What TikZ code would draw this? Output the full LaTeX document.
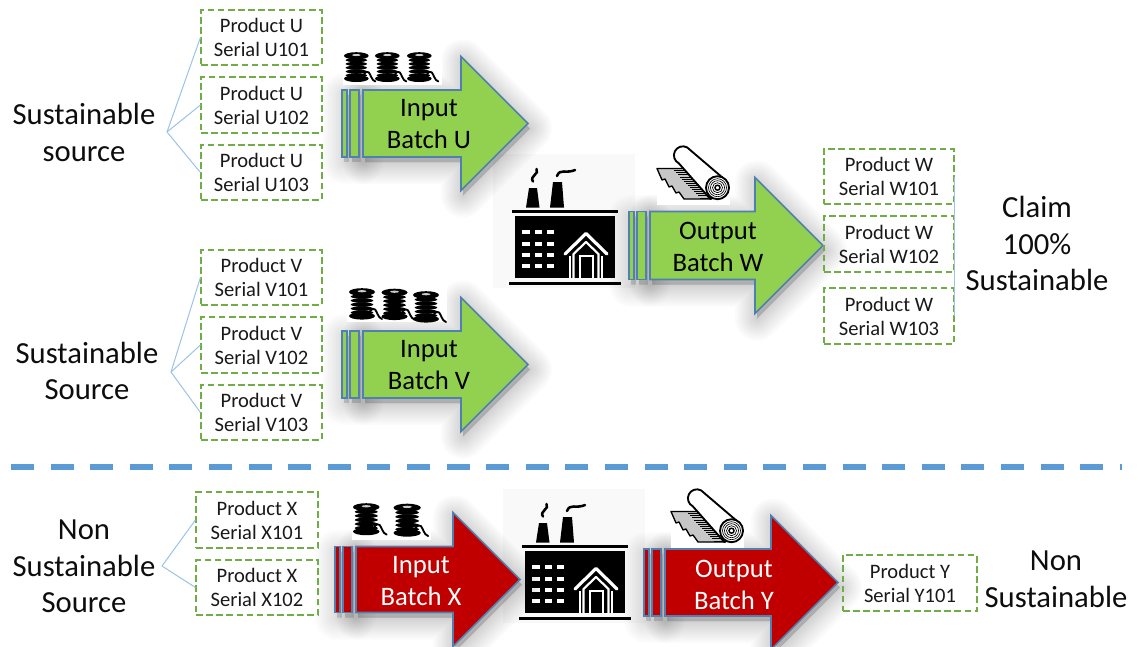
\documentclass[tikz,border=0pt]{standalone}
\usepackage{fontspec}
\setmainfont{Carlito}
\definecolor{fanblue}{HTML}{9DC3E6}
\definecolor{edgeblue}{HTML}{5080B0}
\definecolor{dashblue}{HTML}{5B9BD5}
\definecolor{boxgreen}{HTML}{70AD47}
\definecolor{lime}{HTML}{92D050}
\definecolor{deepred}{HTML}{C00000}
\tikzset{
  pbox/.style={draw=boxgreen,dashed,dash pattern=on 5pt off 2.6pt,line width=0.9pt,inner sep=0pt,align=center,
    font=\fontsize{15.4}{18}\selectfont,text=black!90},
  bigtext/.style={inner sep=0pt,align=center,font=\fontsize{23}{27.4}\selectfont,text=black!95},
  arrowtext/.style={inner sep=0pt,align=center,font=\fontsize{20}{24}\selectfont},
  fan/.style={draw=fanblue,line width=0.75pt},
  edge/.style={draw=edgeblue,line width=1.2pt,line join=miter},
}
\newcommand{\pb}[6]{\node[pbox,minimum width=#4*0.75pt,minimum height=#5*0.75pt] (#1) at (#2,#3) {#6};}
% fill, x0, xh, xt, ym, half body, half head
\newcommand{\batcharrow}[7]{%
  \def\arrowpath{(#2,#5-#6) -- (#3,#5-#6) -- (#3,#5-#7) -- (#4,#5) -- (#3,#5+#7) -- (#3,#5+#6) -- (#2,#5+#6) -- cycle}%
  \def\stripesa{(#2-21,#5-#6) rectangle (#2-16,#5+#6)}%
  \def\stripesb{(#2-13,#5-#6) rectangle (#2-4,#5+#6)}%
  \foreach \w in {44,40,36,32,28,24,20,16,12,8,4}{
    \fill[black,opacity=.017,shift={(2,5)},draw=black,line width=\w*0.75pt,line join=round] \arrowpath;
    \fill[black,opacity=.012,shift={(2,5)},draw=black,line width=\w*0.75pt,line join=round] \stripesa \stripesb;
  }
  \draw[edge,fill=#1] \stripesa;
  \draw[edge,fill=#1] \stripesb;
  \draw[edge,fill=#1] \arrowpath;
}
\newcommand{\factory}[2]{%
  \begin{scope}[shift={(#1,#2)}]
    \fill[black!2.5] (493,154) rectangle (635,288);
    \fill[black] (512,210) rectangle (618,212.5);
    \fill[black] (509,281.5) rectangle (621,284.5);
    \fill[black] (515,215.5) rectangle (614.5,278);
    \fill[black] (526,207.5) -- (529,188) -- (537,188) -- (539.5,207.5) -- cycle;
    \fill[black] (550,207.5) -- (553,182) -- (562,182) -- (564,207.5) -- cycle;
    \draw[black,line width=1.9pt,line cap=round] (533,181.5) .. controls (529,176) and (540,174) .. (536.5,169);
    \draw[black,line width=1.9pt,line cap=round] (557,176) .. controls (560,168) and (566,174) .. (575,170);
    \foreach \yy in {230.3,241.7,253,264.3}{
      \foreach \xx in {522,534.5,546.5}{
        \fill[white] (\xx,\yy) rectangle ++(7.7,3.8);
      }
    }
    \draw[white,line width=2.4pt,line join=round,line cap=round] (565,254) -- (586,233.5) -- (607,254);
    \draw[white,line width=1.6pt,line join=round] (573.5,278) -- (573.5,254) -- (586,242) -- (598.5,254) -- (598.5,278);
    \draw[white,line width=1.5pt] (580,278) -- (580,256) -- (593,256) -- (593,278);
    \draw[white,line width=1.5pt] (570,256) -- (570,278);
    \draw[white,line width=1.5pt] (601.5,256) -- (601.5,278);
  \end{scope}}
\newcommand{\spool}[3]{% x y scale
  \begin{scope}[shift={(#1,#2)},scale=#3]
    \foreach \yy in {8.7,12.7,16.7,20.7,24.7}{
      \fill[black] (13,\yy) ellipse (11.3 and 2.4);
      \draw[white,line width=.8pt] (1.8,\yy+1.1) .. controls (6,\yy+3.3) and (20,\yy+3.3) .. (24.2,\yy+1.1);
    }
    \fill[black] (13,4) ellipse (13 and 3.8);
    \fill[white!80!black] (13,3.2) ellipse (4.5 and 1.1);
    \fill[black] (13,28) ellipse (13 and 3.6);
    \draw[black,line width=1.4pt,line cap=round] (21,23) .. controls (26,18) and (27,23) .. (28.5,26) .. controls (29.5,29) and (31,30) .. (33,31);
  \end{scope}}
\newcommand{\roll}[2]{%
  \begin{scope}[shift={(#1,#2)}]
    \fill[white] (657,144) rectangle (730,205);
    \fill[black!22] (657,169) -- (684,169) -- (712,199) -- (684,199) -- (679,192) -- (676,193) -- (672,186) -- (669,187) -- (665,179) -- (662,180) -- cycle;
    \foreach \t in {0,2,...,26}{
      \draw[black,line width=.4pt] (674+\t,170.5+\t*1.05) -- (686+\t,170.5+\t*1.05);
    }
    \draw[black,line width=1pt,line join=round] (684,168.5) -- (657,168.5) -- (662,180) -- (665,179) -- (669,187) -- (672,186) -- (676,193) -- (679,192) -- (684,199) -- (712,199);
    \draw[black,line width=1.4pt,fill=white,line join=round] (687,147.3) arc[start angle=-63,end angle=-243,radius=9] -- (710.3,199) -- (725.3,180) -- cycle;
    \draw[black,line width=1.4pt,fill=white] (717.5,187.7) circle (11.5);
    \draw[black,line width=.5pt] (717.5,187.7) circle (9) (717.5,187.7) circle (7) (717.5,187.7) circle (5);
    \draw[black,line width=1.1pt] (717.5,187.7) circle (2.5);
  \end{scope}}
\begin{document}
\begin{tikzpicture}[x=0.75pt,y=-0.75pt]
\useasboundingbox (0,0) rectangle (1138,646);
\clip (0,0) rectangle (1138,646);
\fill[white] (0,0) rectangle (1138,646);

% factories first so that arrow shadows sit over their backgrounds
\factory{0}{0}
\factory{10}{335}

% batch arrows
\batcharrow{lime}{363}{461}{528}{123.5}{33.5}{67}
\batcharrow{lime}{363}{461}{528}{364.5}{33.5}{67}
\batcharrow{lime}{650}{755}{823}{245.5}{34}{68}
\batcharrow{deepred}{356}{453}{520}{579.5}{33}{67}
\batcharrow{deepred}{665}{771}{838}{582.5}{33.5}{67}

% white icon backdrops and icons
\fill[white] (343,52) rectangle (442,85);
\spool{344}{52}{.95}\spool{375}{52}{.95}\spool{407}{52}{.95}
\fill[white] (347,287) rectangle (447,322);
\spool{349}{288}{1}\spool{381.5}{288.5}{1}\spool{413}{291}{1}
\fill[white] (352,503) rectangle (431,540);
\spool{353}{503}{1.02}\spool{393.5}{503.5}{1.05}
\roll{0}{0}
\roll{14}{343}

% arrow labels
\node[arrowtext] (tU) at (429,124.5) {Input\\Batch U};
\node[arrowtext] (tV) at (429,365.5) {Input\\Batch V};
\node[arrowtext] (tW) at (718,246.5) {Output\\Batch W};
\node[arrowtext,text=white] (tX) at (421,581.5) {Input\\Batch X};
\node[arrowtext,text=white] (tY) at (734,584.5) {Output\\Batch Y};

% product boxes
\pb{u1}{261.5}{37.5}{121}{55}{Product U\\Serial U101}
\pb{u2}{261.5}{105}{121}{56}{Product U\\Serial U102}
\pb{u3}{261.5}{172.5}{121}{55}{Product U\\Serial U103}
\pb{v1}{261.5}{277.5}{121}{55}{Product V\\Serial V101}
\pb{v2}{261.5}{345}{121}{56}{Product V\\Serial V102}
\pb{v3}{261.5}{412.5}{121}{55}{Product V\\Serial V103}
\pb{w1}{889}{176.5}{130}{55}{Product W\\Serial W101}
\pb{w2}{889}{244}{130}{56}{Product W\\Serial W102}
\pb{w3}{889}{316}{130}{56}{Product W\\Serial W103}
\pb{x1}{257}{520}{122}{56}{Product X\\Serial X101}
\pb{x2}{257}{587.5}{122}{55}{Product X\\Serial X102}
\pb{y1}{910}{583}{134}{56}{Product Y\\Serial Y101}

% source labels
\node[bigtext] (su) at (84,132.5) {Sustainable\\source};
\node[bigtext] (sv) at (87,371) {Sustainable\\Source};
\node[bigtext] (sx) at (84,566.5) {Non\\Sustainable\\Source};
\node[bigtext] (cl) at (1037,243.5) {Claim\\100\%\\Sustainable};
\node[bigtext] (ns) at (1056,579) {Non\\Sustainable};

% fan connectors
\coordinate (fu) at (167,132);
\coordinate (fv) at (171,372);
\coordinate (fx) at (162,566);
\draw[fan] (fu) -- (u1.west);
\draw[fan] (fu) -- (u2.west);
\draw[fan] (fu) -- (u3.west);
\draw[fan] (fv) -- (v1.west);
\draw[fan] (fv) -- (v2.west);
\draw[fan] (fv) -- (v3.west);
\draw[fan] (fx) -- (x1.west);
\draw[fan] (fx) -- (x2.west);
\draw[fan] (w1.east) -- (w3.east);

% separator
\coordinate (sepl) at (11,466.7);
\coordinate (sepr) at (1122,466.7);
\draw[dashblue,line width=4.4pt,dash pattern=on 17.25pt off 12.45pt] (sepl) -- (sepr);
\end{tikzpicture}
\end{document}
